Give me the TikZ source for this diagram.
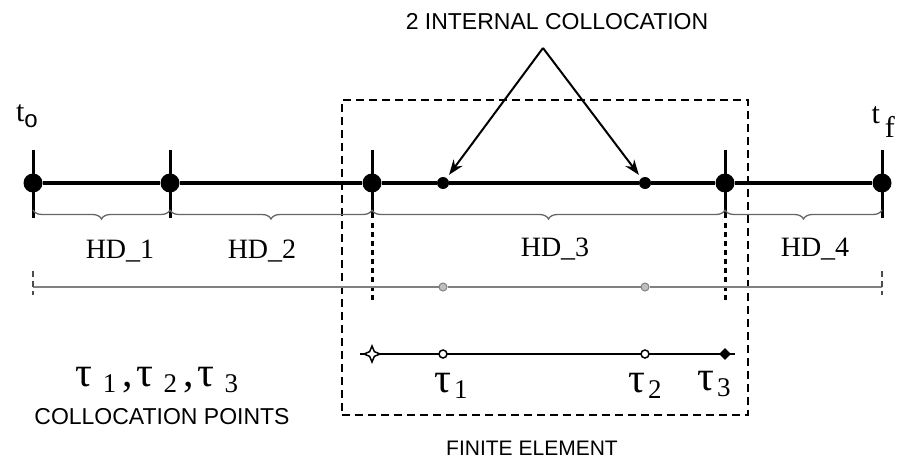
\documentclass[tikz,border=0pt]{standalone}
\usepackage{fontspec}
\setmainfont{Liberation Serif}
\newfontfamily\capsfont{Liberation Sans}
\usetikzlibrary{positioning, shapes.geometric, decorations.pathreplacing, arrows.meta}

\newcommand{\tausub}[2][3pt]{τ\hspace{#1}\raisebox{-6pt}{\fontsize{27}{27}\selectfont #2}}

\begin{document}
\begin{tikzpicture}[x=1pt, y=-1pt,
  bigdot/.style={circle, fill, inner sep=0pt, minimum size=19pt},
  smalldot/.style={circle, fill, inner sep=0pt, minimum size=12pt},
  greydot/.style={circle, draw=gray, fill=gray!50, inner sep=0pt, minimum size=8pt, line width=1pt},
  opendot/.style={circle, draw, fill=white, inner sep=0pt, minimum size=8pt, line width=1.5pt},
  tick/.style={line width=3pt},
  dotline/.style={line width=3pt, dash pattern=on 5pt off 4pt},
  brace/.style={decorate, decoration={brace, mirror, amplitude=9pt}, draw=gray!80!black, line width=1.3pt},
  hd/.style={font=\fontsize{28}{30}\selectfont},
  caps/.style={font=\capsfont\fontsize{23}{26}\selectfont},
  taus/.style={font=\fontsize{42}{44}\selectfont},
  arr/.style={-{Stealth[length=15pt, width=11pt]}, line width=2pt, shorten >=4pt}]

  \useasboundingbox (0,0) rectangle (899,468);

  % finite element box
  \node[draw, dashed, line width=1.5pt, dash pattern=on 8pt off 5pt, inner sep=0pt,
        minimum width=406pt, minimum height=315pt] (elem) at (545,257.5) {};

  % main time axis
  \node[bigdot] (p0) at (33,183) {};
  \node[bigdot] (p1) at (170,183) {};
  \node[bigdot] (p2) at (372,183) {};
  \node[smalldot] (c1) at (443,183) {};
  \node[smalldot] (c2) at (645,183) {};
  \node[bigdot] (p3) at (725,183) {};
  \node[bigdot] (p4) at (882,183) {};
  \draw[line width=3.2pt] (p0) -- (p1) -- (p2) -- (c1) -- (c2) -- (p3) -- (p4);
  \foreach \p in {p0,p1,p2,p3,p4}
    \draw[tick] ([yshift=33pt]\p.center) -- ([yshift=-35pt]\p.center);
  \foreach \p in {p2,p3}
    \draw[dotline] ([yshift=-40pt]\p.center) -- ([yshift=-117pt]\p.center);

  \node (t0) at (27,116) {\fontsize{30}{30}\selectfont t\raisebox{-6pt}{\capsfont\fontsize{24}{24}\selectfont o}};
  \node[anchor=west] (tf) at (868,122) {\fontsize{30}{30}\selectfont t\,\raisebox{-14pt}{f}};

  % horizon braces
  \draw[brace] ([yshift=-27pt]p0.center) -- ([yshift=-27pt]p1.center);
  \draw[brace] ([yshift=-27pt]p1.center) -- ([yshift=-27pt]p2.center);
  \draw[brace] ([yshift=-27pt]p2.center) -- ([yshift=-27pt]p3.center);
  \draw[brace] ([yshift=-27pt]p3.center) -- ([yshift=-27pt]p4.center);
  \node[hd] (hd1) at (120,251) {HD\_1};
  \node[hd] (hd2) at (262,251) {HD\_2};
  \node[hd] (hd3) at (555,249) {HD\_3};
  \node[hd] (hd4) at (815,249) {HD\_4};

  % grey line
  \coordinate (q0) at (33,287);
  \coordinate (q4) at (882,287);
  \node[greydot] (g1) at (443,287) {};
  \node[greydot] (g2) at (645,287) {};
  \draw[gray, line width=1.5pt] (q0) -- (g1) -- (g2) -- (q4);
  \foreach \q in {q0,q4}
    \draw[gray!60!black, line width=2.5pt, dash pattern=on 6pt off 4pt] ([yshift=16pt]\q) -- ([yshift=-8pt]\q);

  % finite element line
  \coordinate (b0) at (360,354);
  \coordinate (b1) at (735,354);
  \draw[line width=2pt] (b0) -- (b1);
  \node[star, star points=4, star point ratio=2.4, draw, fill=white, line width=1.5pt,
        inner sep=0pt, minimum size=16pt] (r0) at (372,354) {};
  \node[opendot] (o1) at (443,354) {};
  \node[opendot] (o2) at (645,354) {};
  \node[diamond, fill, inner sep=0pt, minimum size=12pt] (r3) at (725,354) {};
  \node[taus] (tau1) at (451,386) {\tausub{1}};
  \node[taus] (tau2) at (645,386) {\tausub{2}};
  \node[taus] (tau3) at (714,384) {\tausub{3}};

  % labels and arrows
  \node[caps] (int) at (557,22) {2 INTERNAL COLLOCATION};
  \coordinate (apex) at (543,48);
  \draw[arr] (apex) -- (c1);
  \draw[arr] (apex) -- (c2);
  \node[taus] (taulist) at (157,380)
    {\tausub[10pt]{1}\hspace{6pt},\hspace{4pt}\tausub[10pt]{2}\hspace{6pt},\hspace{4pt}\tausub[10pt]{3}};
  \node[caps] (colpts) at (162,417) {COLLOCATION POINTS};
  \node[caps, font=\capsfont\fontsize{21}{24}\selectfont] (felab) at (532,448) {FINITE ELEMENT};
\end{tikzpicture}
\end{document}
